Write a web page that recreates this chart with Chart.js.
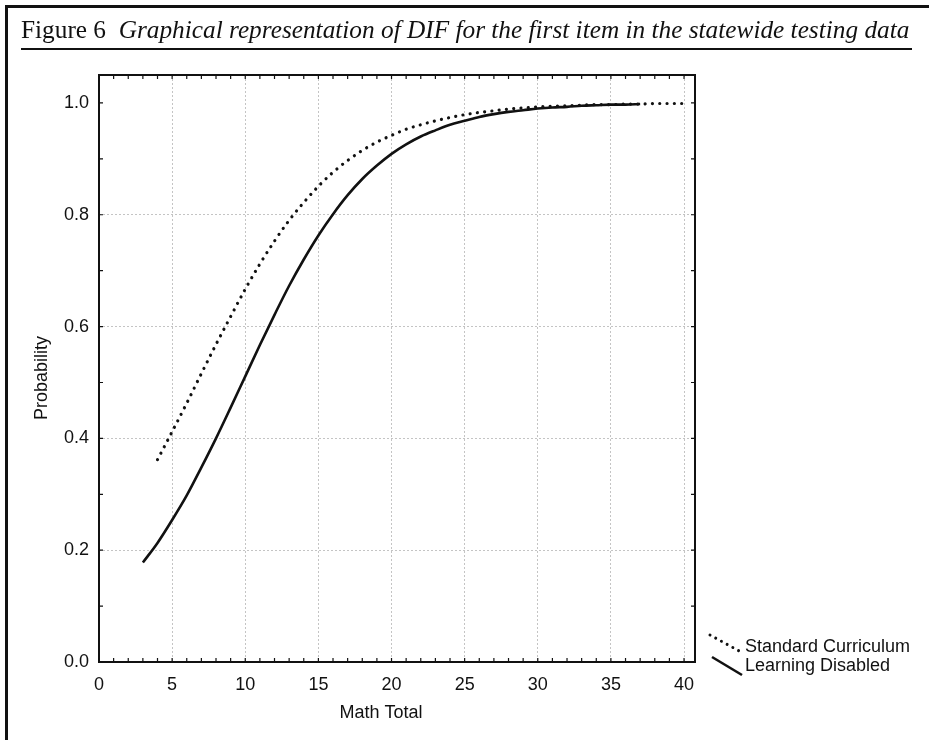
<!DOCTYPE html>
<html>
<head>
<meta charset="utf-8">
<script src="https://cdn.jsdelivr.net/npm/chart.js@4.4.1/dist/chart.umd.min.js"></script>
<style>
  html, body { margin: 0; padding: 0; background: #fff; }
  #wrap { position: relative; width: 929px; height: 740px; overflow: hidden; }
  #chart { position: absolute; left: 0; top: 0; }
  #frameL { position: absolute; left: 5px; top: 5px; width: 3px; height: 740px; background: #111; }
  #frameT { position: absolute; left: 5px; top: 5px; width: 924px; height: 3px; background: #111; }
  #title {
    position: absolute; left: 21px; top: 15px; width: 891px;
    font-family: "Liberation Serif", "DejaVu Serif", serif; font-size: 25.3px; color: #111;
    white-space: nowrap; border-bottom: 2px solid #111; padding-bottom: 5px; line-height: 28px;
  }
  #title i { font-style: italic; }
</style>
</head>
<body>
<div id="wrap">
  <canvas id="chart" width="929" height="740"></canvas>
  <div id="frameL"></div>
  <div id="frameT"></div>
  <div id="title">Figure 6&nbsp; <i>Graphical representation of DIF for the first item in the statewide testing data</i></div>
</div>
<script>
// Learning Disabled (solid)
const ldMath = [3, 4, 5, 6, 7, 8, 9, 10, 11, 12, 13, 14, 15, 16, 17, 18, 19, 20,
  21, 22, 23, 24, 25, 26, 27, 28, 29, 30, 31, 32, 33, 34, 35, 36, 37];
const ldProb = [0.178, 0.213, 0.254, 0.298, 0.348, 0.400, 0.455, 0.511, 0.567, 0.621,
  0.673, 0.720, 0.763, 0.801, 0.835, 0.864, 0.888, 0.909, 0.926, 0.940,
  0.951, 0.961, 0.968, 0.975, 0.980, 0.984, 0.987, 0.990, 0.992, 0.993,
  0.995, 0.996, 0.997, 0.997, 0.998];

// Standard Curriculum (dotted)
const scMath = [4, 5, 6, 7, 8, 9, 10, 11, 12, 13, 14, 15, 16, 17, 18, 19, 20, 21, 22,
  23, 24, 25, 26, 27, 28, 29, 30, 31, 32, 33, 34, 35, 36, 37, 38, 39, 40];
const scProb = [0.362, 0.412, 0.463, 0.516, 0.568, 0.618, 0.667, 0.712, 0.753, 0.790,
  0.822, 0.851, 0.876, 0.897, 0.915, 0.930, 0.942, 0.953, 0.961, 0.968,
  0.974, 0.979, 0.983, 0.986, 0.989, 0.991, 0.993, 0.994, 0.995, 0.996,
  0.997, 0.997, 0.998, 0.998, 0.999, 0.999, 0.999];

const xTicks = [0, 5, 10, 15, 20, 25, 30, 35, 40];
const yTicks = [0.0, 0.2, 0.4, 0.6, 0.8, 1.0];
const seriesNames = ['Standard Curriculum', 'Learning Disabled'];

const FONT = '"Liberation Sans", Arial, sans-serif';
const INK = '#111';

// inward ticks on all four sides, titles and the little legend at the right
const decor = {
  id: 'decor',
  afterDraw(chart) {
    const { ctx, chartArea: a, scales: { x, y } } = chart;
    ctx.save();
    ctx.strokeStyle = INK;
    ctx.lineWidth = 2;
    ctx.strokeRect(a.left, a.top, a.right - a.left, a.bottom - a.top);

    ctx.lineWidth = 1.2;
    ctx.beginPath();
    for (let v = 0; v <= 40; v++) {
      const px = x.getPixelForValue(v);
      ctx.moveTo(px, a.bottom); ctx.lineTo(px, a.bottom - 4);
      ctx.moveTo(px, a.top); ctx.lineTo(px, a.top + 4);
    }
    for (let i = 0; i <= 10; i++) {
      const py = y.getPixelForValue(i / 10);
      ctx.moveTo(a.left, py); ctx.lineTo(a.left + 4, py);
      ctx.moveTo(a.right, py); ctx.lineTo(a.right - 4, py);
    }
    ctx.stroke();

    ctx.fillStyle = INK;
    ctx.font = '18px ' + FONT;
    ctx.textAlign = 'center';
    ctx.textBaseline = 'middle';
    ctx.fillText('Math Total', 381, 713);
    ctx.save();
    ctx.translate(42, 378);
    ctx.rotate(-Math.PI / 2);
    ctx.fillText('Probability', 0, 0);
    ctx.restore();

    // legend
    ctx.textAlign = 'left';
    ctx.textBaseline = 'alphabetic';
    ctx.fillText(seriesNames[0], 745, 652);
    ctx.fillText(seriesNames[1], 745, 671);
    ctx.lineCap = 'round';
    ctx.lineWidth = 3;
    ctx.setLineDash([0.01, 6.5]);
    ctx.beginPath(); ctx.moveTo(710, 635); ctx.lineTo(741, 652); ctx.stroke();
    ctx.setLineDash([]);
    ctx.lineCap = 'butt';
    ctx.lineWidth = 2.6;
    ctx.beginPath(); ctx.moveTo(712, 657); ctx.lineTo(742, 675); ctx.stroke();
    ctx.restore();
  }
};

const gridColor = (keep) => (c) => keep(c.tick.value) ? '#c4c4c4' : 'rgba(0,0,0,0)';

new Chart(document.getElementById('chart'), {
  type: 'line',
  data: {
    datasets: [
      {
        label: seriesNames[0],
        data: scMath.map((m, i) => ({ x: m, y: scProb[i] })),
        borderColor: INK,
        borderWidth: 3.2,
        borderDash: [0.01, 7.3],
        borderCapStyle: 'round',
        pointRadius: 0,
        cubicInterpolationMode: 'monotone'
      },
      {
        label: seriesNames[1],
        data: ldMath.map((m, i) => ({ x: m, y: ldProb[i] })),
        borderColor: INK,
        borderWidth: 2.6,
        pointRadius: 0,
        cubicInterpolationMode: 'monotone'
      }
    ]
  },
  options: {
    responsive: false,
    animation: false,
    layout: { padding: { left: 0, right: 234, top: 75, bottom: 0 } },
    plugins: { legend: { display: false }, tooltip: { enabled: false } },
    scales: {
      x: {
        type: 'linear',
        min: 0,
        max: 40.75,
        afterFit: (s) => { s.height = 78; },
        afterBuildTicks: (s) => { s.ticks = xTicks.map(v => ({ value: v })); },
        ticks: { color: INK, font: { family: FONT, size: 18 }, padding: 12, maxRotation: 0 },
        grid: { drawTicks: false, color: gridColor(v => v > 0), lineWidth: 1 },
        border: { display: false, dash: [2, 2] }
      },
      y: {
        min: 0,
        max: 1.05,
        afterFit: (s) => { s.width = 99; },
        afterBuildTicks: (s) => { s.ticks = yTicks.map(v => ({ value: v })); },
        ticks: { color: INK, font: { family: FONT, size: 18 }, padding: 10, callback: v => v.toFixed(1) },
        grid: { drawTicks: false, color: gridColor(v => v > 0 && v < 1), lineWidth: 1 },
        border: { display: false, dash: [2, 2] }
      }
    }
  },
  plugins: [decor]
});
</script>
</body>
</html>
